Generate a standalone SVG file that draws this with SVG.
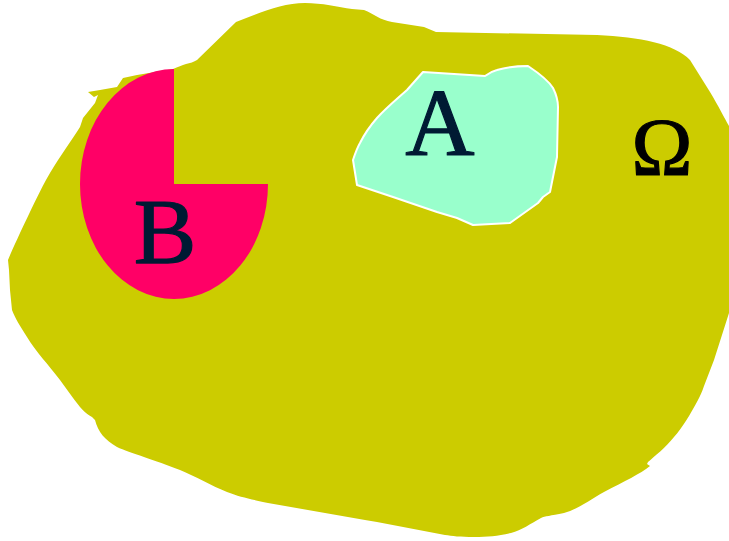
<svg xmlns="http://www.w3.org/2000/svg" width="729" height="541" viewBox="0 0 729 541">
<style>
.lbl{font-family:"Liberation Serif","Times New Roman",serif;text-anchor:middle;stroke-width:1.2;stroke-linejoin:round}
</style>
<rect width="729" height="541" fill="#ffffff"/>
<g id="omega">
<path fill="#CCCC00" d="M236,22 C262,12 282,3 305,3 C322,3 338,7 352,9 L364,10 C374,14 380,20 392,22 L424,27 L436,32 L597,35 C640,37 675,44 690,60 L710,92 C722,112 729,128 735,135 L735,300 L729,313 L714,360 L704,386 C702,392 700,396 698,400 C690,415 682,428 674,437 C665,448 655,456 648,462 L647,464 L650,466 C640,474 625,481 604,492 C590,500 576,510 564,513 C550,516 545,516 541,518 C530,524 522,530 511,533 C498,536 488,537 474,537 C460,537 452,536 445,535 L377,522 L365,520 L268,503 C250,499 240,497 227,492 C212,486 195,476 180,470 C155,460 130,453 117,447 C105,440 98,432 95,420 L92,417 C86,414 83,410 80,407 C72,397 66,388 60,380 C48,364 36,352 27,337 C20,326 15,318 12,310 L10,290 L9,270 L8,260 C12,250 16,242 20,233 C30,212 40,190 50,173 C60,156 72,140 80,127 L83,118 L95,103 L98,95 L94,97 L88,92 L100,90 L117,87 L123,78 L137,75 L173,69 C178,67 182,65 186,64 C190,63 194,62 197,60 Z"/>
<text class="lbl" x="662" y="175" font-size="82" fill="#000000" stroke="#000000">Ω</text>
</g>
<g id="A">
<path fill="#99FFCC" stroke="#ffffff" stroke-width="2" stroke-linejoin="round" d="M423,72 L485,76 C489,73 493,71 497,70 C507,67 518,66 528,66 C540,74 548,80 553,88 C556,94 558,100 558,107 L557,157 L550,192 L543,197 L538,203 L510,223 L473,225 L457,218 L437,212 L393,197 L357,185 L353,160 C355,154 357,148 360,143 C365,133 370,126 377,118 C386,108 397,99 407,90 Z"/>
<text class="lbl" x="440" y="155" font-size="96" fill="#001A33" stroke="#001A33">A</text>
</g>
<g id="B">
<path fill="#FF0066" d="M174,184 L174,69 A94,115 0 1 0 268,184 Z"/>
<text class="lbl" x="165" y="263" font-size="94" fill="#001A33" stroke="#001A33">B</text>
</g>
<g id="connectors"/>
</svg>
